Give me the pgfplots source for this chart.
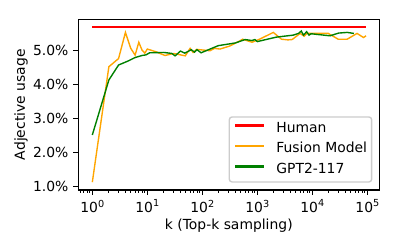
\documentclass[border=0pt]{standalone}
\usepackage{pgfplots}
\pgfplotsset{compat=1.18}
\usepackage{fontspec}
\setmainfont{DejaVu Sans}
\definecolor{mplorange}{HTML}{FFA500}
\definecolor{mplgreen}{HTML}{008000}
\definecolor{mplred}{HTML}{FF0000}
\newcommand\tp[1]{10\raisebox{0.42em}{\fontsize{9.7bp}{10bp}\selectfont #1}}
\begin{document}
\fontsize{13.9bp}{16.7bp}\selectfont
\begin{tikzpicture}
\useasboundingbox (0,0) rectangle (399bp,249bp);
\begin{axis}[
  at={(78.3bp,59bp)}, anchor=south west,
  width=301bp, height=170.5bp, scale only axis,
  xmode=log,
  xmin=0.556, xmax=165000,
  ymin=0.90, ymax=5.92,
  xtick={1,10,100,1000,10000,100000},
  xticklabels={\tp{0},\tp{1},\tp{2},\tp{3},\tp{4},\tp{5}},
  minor xtick={0.6,0.7,0.8,0.9,2,3,4,5,6,7,8,9,20,30,40,50,60,70,80,90,200,300,400,500,600,700,800,900,2000,3000,4000,5000,6000,7000,8000,9000,20000,30000,40000,50000,60000,70000,80000,90000},
  ytick={1,2,3,4,5},
  yticklabels={1.0\%,2.0\%,3.0\%,4.0\%,5.0\%},
  xtick pos=bottom, ytick pos=left,
  tick align=outside,
  major tick length=4.86bp, minor tick length=2.78bp,
  every tick/.style={black, line width=1.1bp},
  minor tick style={line width=0.83bp},
  axis line style={line width=1.1bp},
  xticklabel style={inner sep=0bp, yshift=-4.86bp},
  yticklabel style={inner sep=0bp, xshift=-4.86bp},
  xlabel={k (Top-k sampling)},
  ylabel={Adjective usage},
  every axis x label/.style={at={(rel axis cs:0.5,0)}, anchor=base, yshift=-39bp},
  every axis y label/.style={at={(rel axis cs:0,0.5)}, xshift=-57.3bp, anchor=center, rotate=90},
  legend cell align=left,
  legend style={at={(0.977,0.043)}, anchor=south east,
    draw=black!20, line width=1.39bp, fill=white, fill opacity=0.8, text opacity=1,
    rounded corners=2.8bp, inner xsep=4.7bp, inner ysep=5.5bp,
    nodes={inner sep=0bp, text height=10bp, text depth=3bp},
    row sep=7.5bp, column sep=11.7bp},
  legend image code/.code={\draw[#1,line width=2.08bp] (0bp,3.5bp) -- (28.6bp,3.5bp);},
]
\addplot[mplred, line width=2.08bp] coordinates {(1,5.69) (93000,5.69)};
\addlegendentry{Human}
\addplot[mplorange, line width=1.39bp] coordinates {
(1,1.13) (2,4.53) (3,4.77) (4,5.54) (5,5.07) (6,4.87) (7,5.25) (8,5.02) (9,4.93) (10,5.05)
(15,4.96) (17,4.92) (21,4.86) (30,4.92) (49,4.85) (60,5.07) (68,4.95) (79,5.04)
(138,5.00) (166,5.07) (210,5.05) (316,5.14) (480,5.29) (540,5.34) (800,5.25) (1100,5.34)
(1950,5.54) (2750,5.34) (3600,5.32) (4300,5.33) (6000,5.51) (7100,5.43) (8000,5.51)
(10500,5.51) (19500,5.51) (29500,5.34) (43000,5.34) (65000,5.51) (85000,5.39) (95000,5.44)};
\addlegendentry{Fusion Model}
\addplot[mplgreen, line width=1.39bp] coordinates {
(1,2.52) (2,4.14) (3,4.58) (4.5,4.70) (6,4.80) (8,4.86) (9.5,4.88) (11,4.94) (20,4.95)
(28,4.92) (32,4.85) (40,4.99) (48,4.93) (63,5.03) (72,4.96) (80,5.03) (95,4.94)
(195,5.15) (400,5.23) (600,5.33) (800,5.30) (900,5.33) (1000,5.27) (2200,5.40) (4500,5.46)
(5600,5.51) (6300,5.58) (6900,5.46) (7900,5.56) (8700,5.46) (9500,5.50) (21000,5.44)
(30000,5.52) (43000,5.54) (57000,5.51)};
\addlegendentry{GPT2-117}
\end{axis}
\end{tikzpicture}
\end{document}
